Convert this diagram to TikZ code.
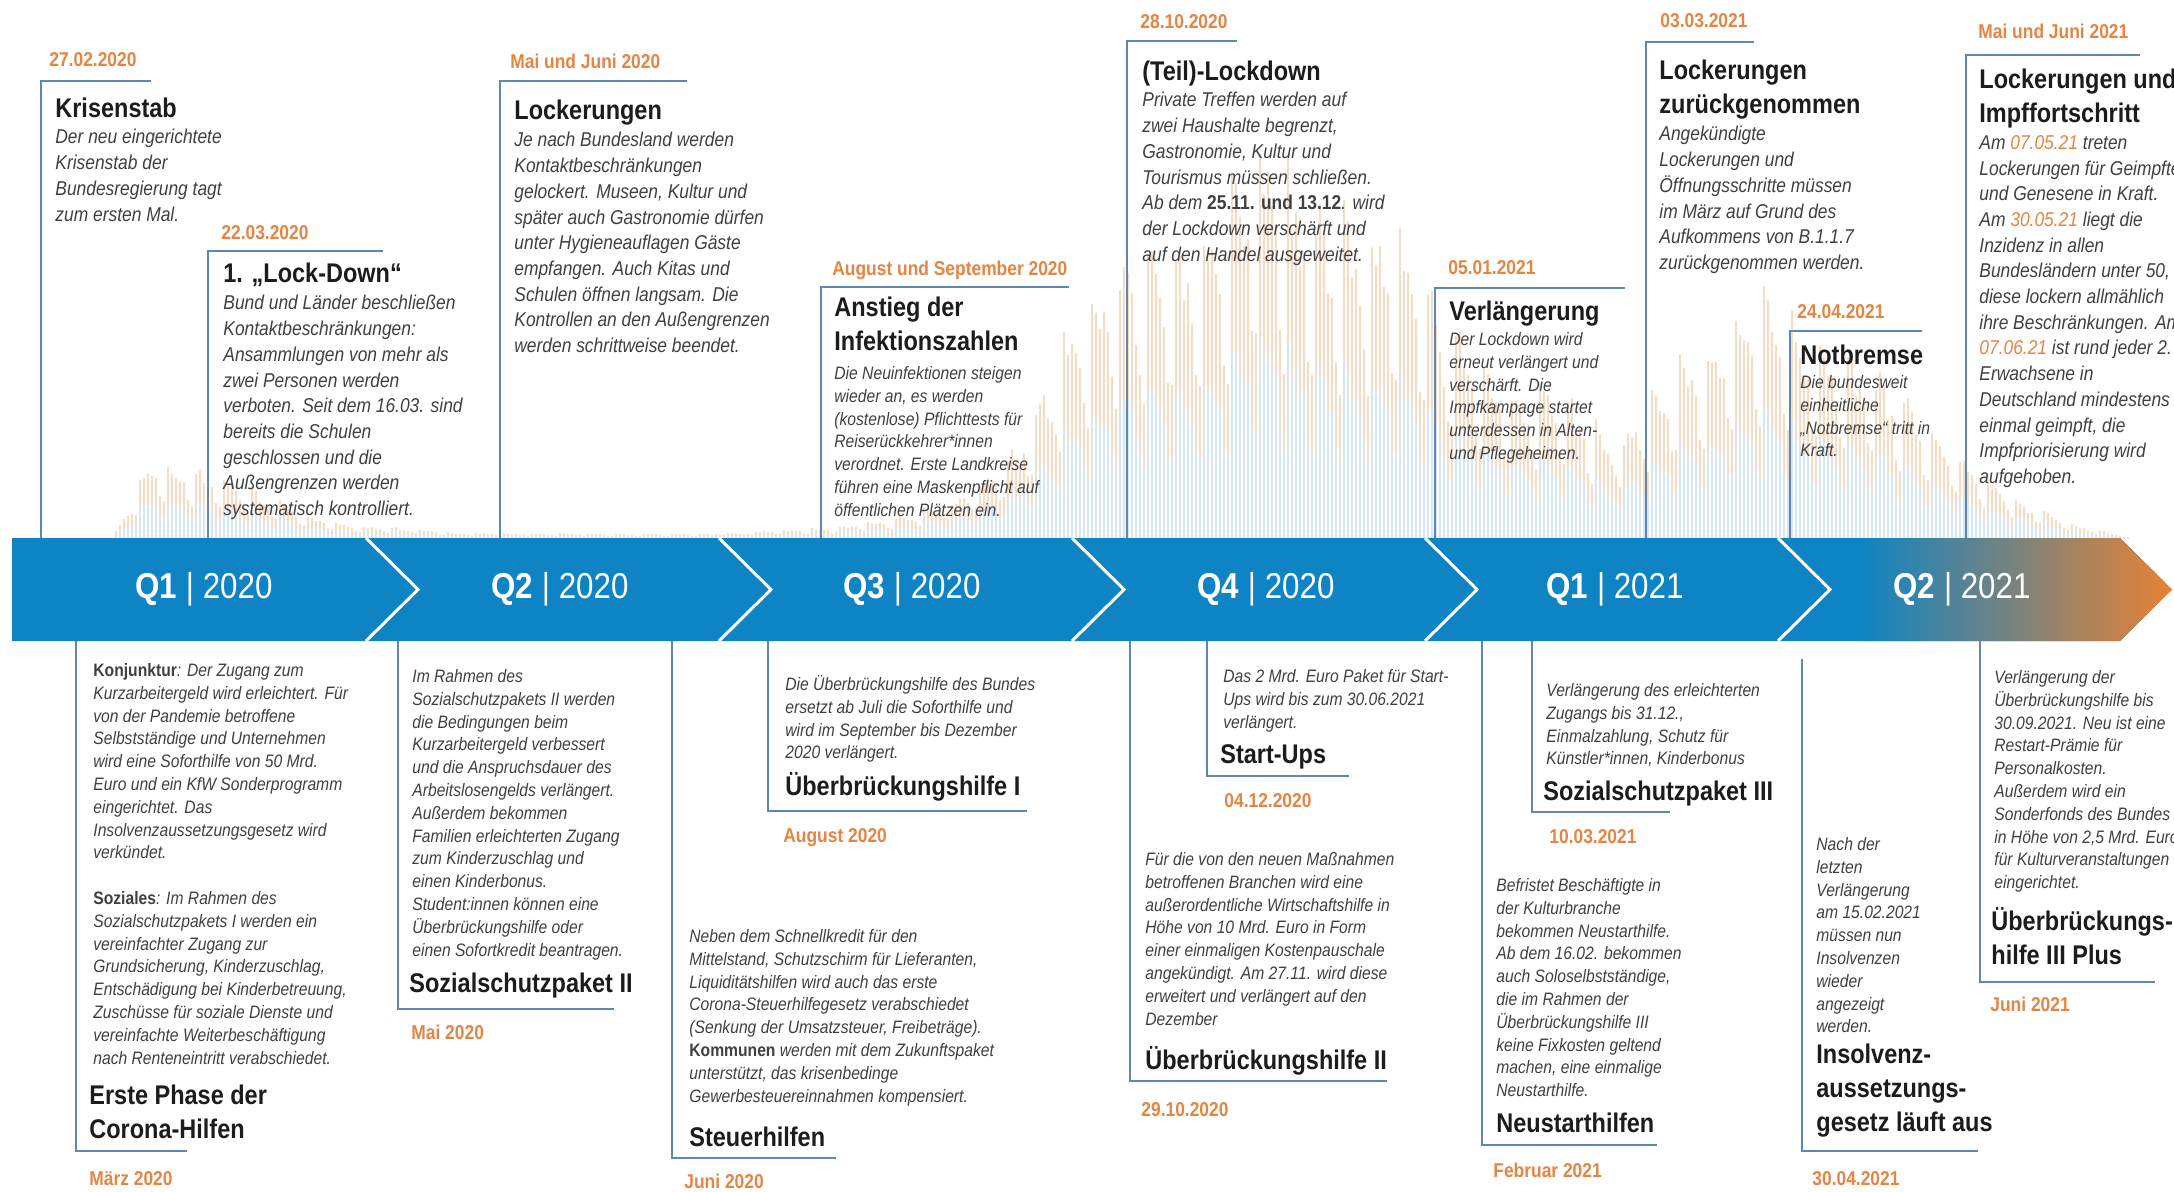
\documentclass[tikz,border=0pt]{standalone}
\usepackage{fontspec}
\setmainfont{Liberation Sans}[FakeStretch=0.87]
\definecolor{bandblue}{RGB}{14,132,196}
\definecolor{tiporange}{RGB}{232,130,52}
\definecolor{dateorange}{RGB}{230,132,66}
\definecolor{lineblue}{RGB}{96,134,180}
\definecolor{headgray}{RGB}{28,28,28}
\definecolor{bodygray}{RGB}{64,64,64}
\definecolor{barorange}{RGB}{249,219,196}
\definecolor{barblue}{RGB}{212,229,246}
\newcommand{\od}[1]{\textcolor{dateorange}{#1}}
\tikzset{
  guide/.style={draw=lineblue, line width=1.1pt},
  date/.style={anchor=base west, inner sep=0pt, text=dateorange, font=\fontsize{10}{12}\selectfont\bfseries},
  head/.style={anchor=north west, inner sep=0pt, align=left, text=headgray,
    font=\fontsize{13.5}{17}\selectfont\bfseries, execute at begin node=\rule{0pt}{0.95em}},
  body/.style={anchor=north west, inner sep=0pt, align=left, text=bodygray,
    font=\fontsize{10}{12.85}\selectfont\itshape, execute at begin node=\rule{0pt}{0.95em}},
  sbody/.style={body, font=\fontsize{9}{11.4}\selectfont\itshape},
  quarter/.style={text=white, inner sep=0pt, font=\fontsize{18}{20}\selectfont},
  bar/.style={line width=0.9pt},
}
\begin{document}
\begin{tikzpicture}[x=0.5pt,y=-0.5pt]
    \useasboundingbox (0,0) rectangle (2174,1191);
    \fill[white] (0,0) rectangle (2174,1191);
    \clip (0,0) rectangle (2174,1191);
    \pgfmathsetseed{7}
    \foreach \xa/\ha/\xb/\hb in {112/0/152/76, 152/76/196/68, 196/68/232/55, 232/55/288/31, 288/31/312/21,
        312/21/352/12, 352/12/420/9, 420/9/452/5, 452/5/700/4, 700/4/832/10, 832/10/888/18, 888/18/956/38,
        956/38/1000/70, 1000/70/1028/110, 1028/110/1068/200, 1068/200/1108/265, 1108/265/1152/275,
        1152/275/1200/290, 1200/290/1232/340, 1232/340/1260/385, 1260/385/1284/360, 1284/360/1300/330,
        1300/330/1340/315, 1340/315/1384/300, 1384/300/1428/260, 1428/260/1440/220, 1440/220/1500/150,
        1500/150/1560/145, 1560/145/1600/110, 1600/110/1620/95, 1620/95/1660/150, 1660/150/1720/205,
        1720/205/1768/250, 1768/250/1820/190, 1820/190/1880/160, 1880/160/1932/110, 1932/110/1980/62,
        1980/62/2032/30, 2032/30/2080/12, 2080/12/2132/0}{
      \pgfmathtruncatemacro\nbar{(\xb-\xa)/4-1}
      \foreach \i in {0,...,\nbar}{
        \pgfmathsetmacro\xx{\xa+4*\i}
        \pgfmathtruncatemacro\dd{mod(round((\xx-112)/4),7)}
        \pgfmathsetmacro\ff{{1,0.96,0.9,0.84,0.78,0.58,0.5}[\dd]}
        \pgfmathsetmacro\hh{(\ha+(\hb-\ha)*\i*4/(\xb-\xa))*\ff*(0.9+0.2*rnd)}
        \draw[bar,barblue](\xx,538)--(\xx,538-0.52*\hh);
        \draw[bar,barorange](\xx,538-0.52*\hh)--(\xx,538-\hh);
      }
    }
    \fill[bandblue](12,538)--(2120,538)--(2172,589.5)--(2120,641)--(12,641)--cycle;
    \shade[left color=bandblue,right color=tiporange](1860,538)--(2120,538)--(2172,589.5)--(2120,641)--(1860,641)--cycle;
    \foreach \sx in {366,719,1072,1425,1778}
      \draw[white,line width=1.5pt](\sx,538)--(\sx+52,589.5)--(\sx,641);
    \node[quarter] (q1-2020) at (204,589) {\textbf{Q1} | 2020};
    \node[quarter] (q2-2020) at (560,589) {\textbf{Q2} | 2020};
    \node[quarter] (q3-2020) at (912,589) {\textbf{Q3} | 2020};
    \node[quarter] (q4-2020) at (1266,589) {\textbf{Q4} | 2020};
    \node[quarter] (q1-2021) at (1615,589) {\textbf{Q1} | 2021};
    \node[quarter] (q2-2021) at (1962,589) {\textbf{Q2} | 2021};

    \draw[guide](41,538)|-(151,81);
    \node[date] (d-krisenstab) at (49,66) {27.02.2020};
    \node[head] (h-krisenstab) at (55,91) {Krisenstab};
    \node[body] (t-krisenstab) at (55,129) {Der neu eingerichtete\\Krisenstab der\\Bundesregierung tagt\\zum ersten Mal.};

    \draw[guide](208,538)|-(383,251);
    \node[date] (d-lockdown1) at (221,239) {22.03.2020};
    \node[head] (h-lockdown1) at (223,256) {1. „Lock-Down“};
    \node[body] (t-lockdown1) at (223,295) {Bund und Länder beschließen\\Kontaktbeschränkungen:\\Ansammlungen von mehr als\\zwei Personen werden\\verboten. Seit dem 16.03. sind\\bereits die Schulen\\geschlossen und die\\Außengrenzen werden\\systematisch kontrolliert.};

    \draw[guide](500,538)|-(687,81);
    \node[date] (d-lockerung1) at (510,68) {Mai und Juni 2020};
    \node[head] (h-lockerung1) at (514,93) {Lockerungen};
    \node[body] (t-lockerung1) at (514,132) {Je nach Bundesland werden\\Kontaktbeschränkungen\\gelockert. Museen, Kultur und\\später auch Gastronomie dürfen\\unter Hygieneauflagen Gäste\\empfangen. Auch Kitas und\\Schulen öffnen langsam. Die\\Kontrollen an den Außengrenzen\\werden schrittweise beendet.};

    \draw[guide](821,538)|-(1069,287);
    \node[date] (d-anstieg) at (832,275) {August und September 2020};
    \node[head] (h-anstieg) at (834,297) {Anstieg der\\Infektionszahlen};
    \node[sbody] (t-anstieg) at (834,366) {Die Neuinfektionen steigen\\wieder an, es werden\\(kostenlose) Pflichttests für\\Reiserückkehrer*innen\\verordnet. Erste Landkreise\\führen eine Maskenpflicht auf\\öffentlichen Plätzen ein.};

    \draw[guide](1127,538)|-(1237,41);
    \node[date] (d-teil) at (1140,28) {28.10.2020};
    \node[head] (h-teil) at (1142,54) {(Teil)-Lockdown};
    \node[body] (t-teil) at (1142,92) {Private Treffen werden auf\\zwei Haushalte begrenzt,\\Gastronomie, Kultur und\\Tourismus müssen schließen.\\Ab dem {\bfseries\upshape 25.11. und 13.12}. wird\\der Lockdown verschärft und\\auf den Handel ausgeweitet.};

    \draw[guide](1435,538)|-(1625,288);
    \node[date] (d-verl) at (1448,274) {05.01.2021};
    \node[head] (h-verl) at (1449,294) {Verlängerung};
    \node[sbody] (t-verl) at (1449,332) {Der Lockdown wird\\erneut verlängert und\\verschärft. Die\\Impfkampage startet\\unterdessen in Alten-\\und Pflegeheimen.};

    \draw[guide](1646,538)|-(1754,42);
    \node[date] (d-zurueck) at (1660,27) {03.03.2021};
    \node[head] (h-zurueck) at (1659,60) {Lockerungen\\zurückgenommen};
    \node[body] (t-zurueck) at (1659,126) {Angekündigte\\Lockerungen und\\Öffnungsschritte müssen\\im März auf Grund des\\Aufkommens von B.1.1.7\\zurückgenommen werden.};

    \draw[guide](1790,538)|-(1922,331);
    \node[date] (d-notbremse) at (1797,318) {24.04.2021};
    \node[head] (h-notbremse) at (1800,338) {Notbremse};
    \node[sbody] (t-notbremse) at (1800,375) {Die bundesweit\\einheitliche\\„Notbremse“ tritt in\\Kraft.};

    \draw[guide](1966,538)|-(2140,55);
    \node[date] (d-impf) at (1978,38) {Mai und Juni 2021};
    \node[head] (h-impf) at (1979,69) {Lockerungen und\\Impffortschritt};
    \node[body] (t-impf) at (1979,135) {Am \od{07.05.21} treten\\Lockerungen für Geimpfte\\und Genesene in Kraft.\\Am \od{30.05.21} liegt die\\Inzidenz in allen\\Bundesländern unter 50,\\diese lockern allmählich\\ihre Beschränkungen. Am\\\od{07.06.21} ist rund jeder 2.\\Erwachsene in\\Deutschland mindestens\\einmal geimpft, die\\Impfpriorisierung wird\\aufgehoben.};

    \draw[guide](76,641)|-(187,1151);
    \node[date] (d-phase) at (89,1185) {März 2020};
    \node[head] (h-phase) at (89,1085) {Erste Phase der\\Corona-Hilfen};
    \node[sbody] (t-phase) at (93,663) {{\bfseries\upshape Konjunktur}: Der Zugang zum\\Kurzarbeitergeld wird erleichtert. Für\\von der Pandemie betroffene\\Selbstständige und Unternehmen\\wird eine Soforthilfe von 50 Mrd.\\Euro und ein KfW Sonderprogramm\\eingerichtet. Das\\Insolvenzaussetzungsgesetz wird\\verkündet.\\[11.4pt]{\bfseries\upshape Soziales}: Im Rahmen des\\Sozialschutzpakets I werden ein\\vereinfachter Zugang zur\\Grundsicherung, Kinderzuschlag,\\Entschädigung bei Kinderbetreuung,\\Zuschüsse für soziale Dienste und\\vereinfachte Weiterbeschäftigung\\nach Renteneintritt verabschiedet.};

    \draw[guide](398,641)|-(614,1009);
    \node[date] (d-ssp2) at (411,1039) {Mai 2020};
    \node[head] (h-ssp2) at (409,966) {Sozialschutzpaket II};
    \node[sbody] (t-ssp2) at (412,669) {Im Rahmen des\\Sozialschutzpakets II werden\\die Bedingungen beim\\Kurzarbeitergeld verbessert\\und die Anspruchsdauer des\\Arbeitslosengelds verlängert.\\Außerdem bekommen\\Familien erleichterten Zugang\\zum Kinderzuschlag und\\einen Kinderbonus.\\Student:innen können eine\\Überbrückungshilfe oder\\einen Sofortkredit beantragen.};

    \draw[guide](672,641)|-(836,1158);
    \node[date] (d-steuer) at (684,1188) {Juni 2020};
    \node[head] (h-steuer) at (689,1120) {Steuerhilfen};
    \node[sbody] (t-steuer) at (689,929) {Neben dem Schnellkredit für den\\Mittelstand, Schutzschirm für Lieferanten,\\Liquiditätshilfen wird auch das erste\\Corona-Steuerhilfegesetz verabschiedet\\(Senkung der Umsatzsteuer, Freibeträge).\\{\bfseries\upshape Kommunen} werden mit dem Zukunftspaket\\unterstützt, das krisenbedinge\\Gewerbesteuereinnahmen kompensiert.};

    \draw[guide](768,641)|-(1027,811);
    \node[date] (d-ueb1) at (783,842) {August 2020};
    \node[head] (h-ueb1) at (785,769) {Überbrückungshilfe I};
    \node[sbody] (t-ueb1) at (785,675) {Die Überbrückungshilfe des Bundes\\ersetzt ab Juli die Soforthilfe und\\wird im September bis Dezember\\2020 verlängert.};

    \draw[guide](1130,641)|-(1387,1081);
    \node[date] (d-ueb2) at (1141,1116) {29.10.2020};
    \node[head] (h-ueb2) at (1145,1043) {Überbrückungshilfe II};
    \node[sbody] (t-ueb2) at (1145,852) {Für die von den neuen Maßnahmen\\betroffenen Branchen wird eine\\außerordentliche Wirtschaftshilfe in\\Höhe von 10 Mrd. Euro in Form\\einer einmaligen Kostenpauschale\\angekündigt. Am 27.11. wird diese\\erweitert und verlängert auf den\\Dezember};

    \draw[guide](1207,641)|-(1349,776);
    \node[date] (d-startups) at (1224,807) {04.12.2020};
    \node[head] (h-startups) at (1220,737) {Start-Ups};
    \node[sbody] (t-startups) at (1223,669) {Das 2 Mrd. Euro Paket für Start-\\Ups wird bis zum 30.06.2021\\verlängert.};

    \draw[guide](1482,641)|-(1657,1145);
    \node[date] (d-neustart) at (1493,1177) {Februar 2021};
    \node[head] (h-neustart) at (1496,1106) {Neustarthilfen};
    \node[sbody] (t-neustart) at (1496,878) {Befristet Beschäftigte in\\der Kulturbranche\\bekommen Neustarthilfe.\\Ab dem 16.02. bekommen\\auch Soloselbstständige,\\die im Rahmen der\\Überbrückungshilfe III\\keine Fixkosten geltend\\machen, eine einmalige\\Neustarthilfe.};

    \draw[guide](1532,641)|-(1670,812);
    \node[date] (d-ssp3) at (1549,843) {10.03.2021};
    \node[head] (h-ssp3) at (1543,774) {Sozialschutzpaket III};
    \node[sbody] (t-ssp3) at (1546,683) {Verlängerung des erleichterten\\Zugangs bis 31.12.,\\Einmalzahlung, Schutz für\\Künstler*innen, Kinderbonus};

    \draw[guide](1802,659)|-(1978,1151);
    \node[date] (d-insolvenz) at (1812,1185) {30.04.2021};
    \node[head] (h-insolvenz) at (1816,1044) {Insolvenz-\\aussetzungs-\\gesetz läuft aus};
    \node[sbody] (t-insolvenz) at (1816,837) {Nach der\\letzten\\Verlängerung\\am 15.02.2021\\müssen nun\\Insolvenzen\\wieder\\angezeigt\\werden.};

    \draw[guide](1980,641)|-(2155,982);
    \node[date] (d-ueb3) at (1990,1011) {Juni 2021};
    \node[head] (h-ueb3) at (1991,907) {Überbrückungs-\\hilfe III Plus};
    \node[sbody] (t-ueb3) at (1994,670) {Verlängerung der\\Überbrückungshilfe bis\\30.09.2021. Neu ist eine\\Restart-Prämie für\\Personalkosten.\\Außerdem wird ein\\Sonderfonds des Bundes\\in Höhe von 2,5 Mrd. Euro\\für Kulturveranstaltungen\\eingerichtet.};
\end{tikzpicture}
\end{document}
